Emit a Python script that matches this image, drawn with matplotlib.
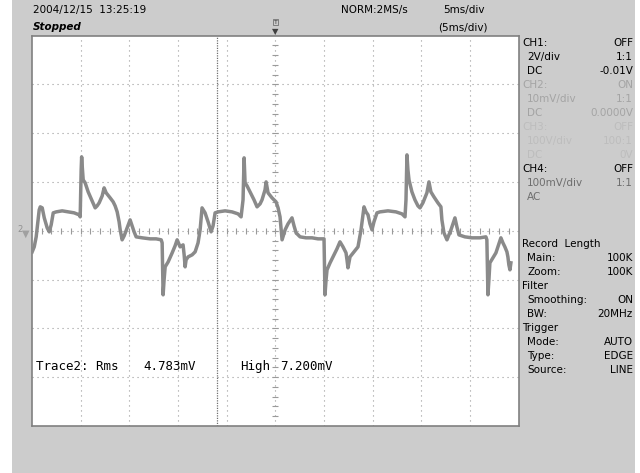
import numpy as np
import matplotlib
matplotlib.use('Agg')
import matplotlib.pyplot as plt
from matplotlib.patches import Rectangle

# Trace 2 captured waveform, time in ms (5 ms/div), voltage in mV (10 mV/div)
time_ms = [
    -24.98, -24.77, -24.57, -24.26, -24.15, -23.95, -23.74, -23.44, -23.23, -23.03,
    -22.82, -22.51, -21.90, -21.28, -20.67, -20.15, -20.05, -19.95, -19.90, -19.85,
    -19.74, -19.54, -19.23, -18.92, -18.51, -18.31, -18.10, -17.79, -17.59, -17.38,
    -16.97, -16.66, -16.46, -16.25, -16.05, -15.94, -15.74, -15.53, -15.22, -14.92,
    -14.71, -14.51, -14.30, -13.68, -12.86, -12.25, -11.73, -11.63, -11.53, -11.43,
    -11.32, -11.01, -10.60, -10.30, -10.09, -9.78, -9.48, -9.37, -9.27, -9.17,
    -8.96, -8.55, -8.24, -7.94, -7.73, -7.53, -7.22, -6.91, -6.60, -6.40,
    -6.19, -5.88, -5.16, -4.45, -3.83, -3.52,
    -3.32, -3.21, -3.11, -2.91, -2.60, -2.19, -1.88, -1.57, -1.37, -1.06,
    -0.95, -0.75, -0.34, 0.07, 0.28, 0.48, 0.69, 1.00, 1.30, 1.71,
    1.92, 2.13, 2.54, 3.15, 3.77, 4.38, 5.00, 5.10, 5.21, 5.31,
    5.62, 5.92, 6.33, 6.64, 6.95, 7.26, 7.36, 7.46, 7.67, 8.08,
    8.49, 8.80, 9.11, 9.31, 9.52, 9.72, 9.93, 10.13, 10.44, 10.75,
    11.57, 12.39, 13.01, 13.32,
    13.42, 13.52, 13.62, 13.73, 14.03, 14.34, 14.65, 14.86, 15.16, 15.57,
    15.78, 15.98, 16.29, 16.70, 17.01, 17.11, 17.32, 17.63, 17.83, 18.04,
    18.45, 18.65, 18.86, 19.47, 20.19, 21.01, 21.63, 21.73, 21.84, 21.94,
    22.04, 22.35, 22.66, 22.97, 23.17, 23.38, 23.58, 23.79, 23.89, 23.99,
    24.10, 24.20,
]
volt_mv = [
    -4.30, -3.28, -1.23, 4.30, 4.92, 4.71, 2.66, 0.61, -0.20, 1.23,
    3.69, 3.89, 4.10, 3.89, 3.69, 3.28, 2.87, 12.50, 15.16, 13.52,
    10.45, 9.84, 7.99, 6.56, 4.71, 5.12, 5.74, 7.17, 8.81, 7.79,
    6.76, 5.94, 5.12, 3.89, 1.84, 0.20, -1.84, -1.02, 0.61, 2.25,
    1.02, -0.20, -1.23, -1.43, -1.64, -1.64, -1.84, -2.46, -13.11, -10.04,
    -7.38, -6.35, -4.51, -3.07, -1.84, -3.28, -2.87, -4.92, -7.38, -5.94,
    -5.33, -4.92, -4.30, -2.46, 0.20, 4.71, 3.69, 1.84, -0.20, 1.02,
    3.69, 3.89, 4.10, 3.89, 3.48, 2.87,
    6.35, 14.96, 9.84, 9.22, 7.99, 6.35, 4.92, 5.53, 6.35, 8.40,
    10.04, 7.79, 6.76, 5.94, 4.71, 2.87, -1.84, 0.20, 1.43, 2.66,
    1.02, -0.41, -1.23, -1.43, -1.43, -1.64, -1.64, -13.11, -10.04, -7.99,
    -6.56, -5.33, -3.69, -2.25, -3.28, -4.51, -5.94, -7.58, -5.33, -4.30,
    -3.28, 0.20, 4.92, 3.89, 3.28, 1.43, 0.20, 1.84, 3.69, 3.89,
    4.10, 3.89, 3.48, 2.87,
    6.35, 15.57, 12.50, 10.45, 7.99, 6.35, 5.12, 4.71, 5.74, 7.79,
    10.04, 7.99, 6.97, 5.74, 4.92, 2.25, -0.41, -1.84, -0.82, 0.20,
    2.66, 0.82, -0.82, -1.23, -1.43, -1.43, -1.23, -1.84, -13.11, -10.04,
    -6.56, -5.53, -4.51, -2.66, -1.43, -2.46, -3.28, -4.30, -5.33, -6.97,
    -7.99, -6.56,
]
cursor_ms = -6.0

header_left = ['2004/12/15  13:25:19', 'Stopped']
header_mid = 'NORM:2MS/s'
header_right = ['5ms/div', '(5ms/div)']

# right hand info panel: (label, value, colour, indented)
panel_top = [
    ('CH1:', 'OFF', '#000000', False),
    ('2V/div', '1:1', '#000000', True),
    ('DC', '-0.01V', '#000000', True),
    ('CH2:', 'ON', '#a4a4a4', False),
    ('10mV/div', '1:1', '#a4a4a4', True),
    ('DC', '0.0000V', '#a4a4a4', True),
    ('CH3:', 'OFF', '#bdbdbd', False),
    ('100V/div', '100:1', '#bdbdbd', True),
    ('DC', '0V', '#bdbdbd', True),
    ('CH4:', 'OFF', '#000000', False),
    ('100mV/div', '1:1', '#6e6e6e', True),
    ('AC', '', '#6e6e6e', True),
]
panel_bottom = [
    ('Record  Length', '', '#000000', False),
    ('Main:', '100K', '#000000', True),
    ('Zoom:', '100K', '#000000', True),
    ('Filter', '', '#000000', False),
    ('Smoothing:', 'ON', '#000000', True),
    ('BW:', '20MHz', '#000000', True),
    ('Trigger', '', '#000000', False),
    ('Mode:', 'AUTO', '#000000', True),
    ('Type:', 'EDGE', '#000000', True),
    ('Source:', 'LINE', '#000000', True),
]
meas_texts = [('Trace2: Rms', -24.6), ('4.783mV', -13.6), ('High', -3.6), ('7.200mV', 0.5)]

W, H = 640, 473


def fpos(x, y):
    return x / W, 1 - y / H


fig = plt.figure(figsize=(6.4, 4.73), dpi=100)
fig.patch.set_facecolor('white')
fig.add_artist(Rectangle((12 / W, 0), 623 / W, 1, transform=fig.transFigure,
                         facecolor='#cccccc', edgecolor='none', zorder=0))

ax = fig.add_axes([32 / W, 47 / H, 486.7 / W, 390.3 / H])
ax.set_facecolor('white')
ax.set_xlim(-25, 25)
ax.set_ylim(-40, 40)
ax.set_xticks([])
ax.set_yticks([])
for s in ax.spines.values():
    s.set_color('#808080')
    s.set_linewidth(1.2)

grid_kw = dict(color='#9a9a9a', linestyle=(0, (1, 3.5)), linewidth=0.8, zorder=1)
for t in np.arange(-20, 21, 5):
    if t != 0:
        ax.axvline(t, **grid_kw)
for v in np.arange(-30, 31, 10):
    if v != 0:
        ax.axhline(v, **grid_kw)
ax.axvline(0, **grid_kw)
ax.axhline(0, **grid_kw)
# centre graticule ticks
tt = np.arange(-24, 25, 1)
ax.plot(tt, np.zeros_like(tt), linestyle='none', marker='|', markersize=4,
        color='#9a9a9a', markeredgewidth=0.8, zorder=1)
vv = np.arange(-38, 39, 2)
ax.plot(np.zeros_like(vv), vv, linestyle='none', marker='_', markersize=5,
        color='#9a9a9a', markeredgewidth=0.8, zorder=1)
# cursor
ax.axvline(cursor_ms, color='#707070', linestyle=(0, (1, 1)), linewidth=0.9, zorder=1)

ax.plot(time_ms, volt_mv, color='#8a8a8a', linewidth=2.5, solid_joinstyle='round', zorder=3)

mono = dict(family='DejaVu Sans Mono', fontsize=9, color='#000000', va='center')
for txt, x in meas_texts:
    ax.text(x, -27.8, txt, **mono, zorder=4)

# header
sans = dict(family='DejaVu Sans', fontsize=7.5, va='center')
fig.text(*fpos(33, 10), header_left[0], **sans)
fig.text(*fpos(33, 27), header_left[1], style='italic', weight='bold', **sans)
fig.text(*fpos(341, 10), header_mid, **sans)
fig.text(*fpos(443, 10), header_right[0], **sans)
fig.text(*fpos(438, 27), header_right[1], **sans)

# trigger marker
fig.text(*fpos(275.5, 22), 'T', fontsize=4.5, ha='center', va='center', color='#303030',
         bbox=dict(boxstyle='square,pad=0.05', facecolor='none', edgecolor='#606060', linewidth=0.5))
fig.text(*fpos(275.5, 31.5), '\u25bc', fontsize=6, ha='center', va='center', color='#404040')
# channel 2 ground marker
fig.text(*fpos(20, 230), '2', fontsize=6, ha='center', va='center', color='#909090')
fig.text(*fpos(26, 234), '\u25bc', fontsize=7, ha='center', va='center', color='#a0a0a0')

for rows, y0 in ((panel_top, 43), (panel_bottom, 244)):
    for i, (lab, val, col, ind) in enumerate(rows):
        y = y0 + i * 14
        fig.text(*fpos(527 if ind else 522, y), lab, color=col, **sans)
        if val:
            fig.text(*fpos(633, y), val, color=col, ha='right', **sans)

fig.savefig('out.png', dpi=100)
